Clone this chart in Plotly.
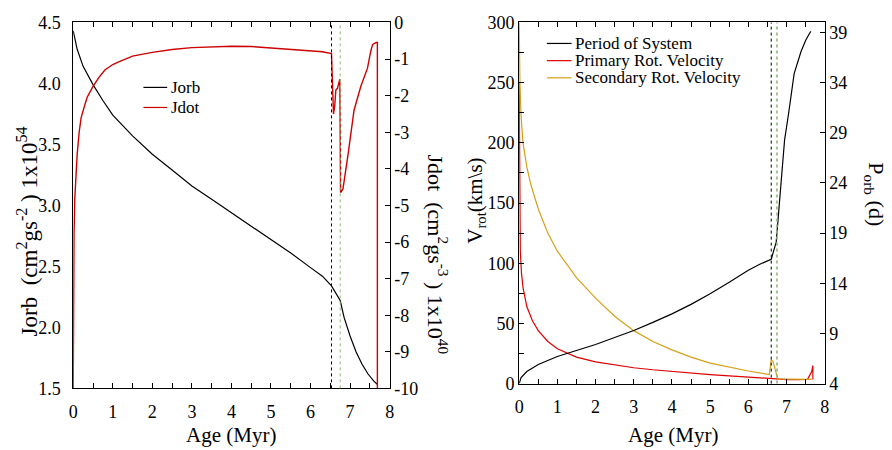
import plotly.graph_objects as go

# ---------------- data ----------------
# Left panel: orbital angular momentum (1e54) and its derivative (1e40)
t_jorb = [0, 0.05, 0.1, 0.25, 0.5, 0.75, 1, 1.5, 2, 2.5, 3, 3.5, 4, 4.5, 5, 5.5, 6, 6.3, 6.53,
          6.75, 6.85, 7.0, 7.15, 7.3, 7.45, 7.6, 7.7]
jorb = [4.43, 4.35, 4.28, 4.14, 3.99, 3.86, 3.74, 3.57, 3.42, 3.29, 3.16, 3.05, 2.94, 2.83, 2.72,
        2.61, 2.49, 2.42, 2.34, 2.22, 2.08, 1.93, 1.80, 1.70, 1.62, 1.56, 1.53]

t_jdot = [0, 0.005, 0.01, 0.02, 0.04, 0.07, 0.1, 0.15, 0.2, 0.28, 0.35, 0.5, 0.65, 0.8, 1.0, 1.15,
          1.5, 2.0, 2.5, 3.0, 3.5, 4.0, 4.5, 5.0, 5.5, 6.0, 6.3, 6.53, 6.58, 6.61, 6.64, 6.68,
          6.71, 6.74, 6.76, 6.82, 6.95, 7.1, 7.27, 7.44, 7.52, 7.57, 7.66, 7.69, 7.69]
jdot = [-10.0, -8.5, -7.0, -5.8, -4.8, -4.1, -3.6, -3.0, -2.6, -2.3, -2.05, -1.75, -1.5, -1.3,
        -1.15, -1.08, -0.92, -0.82, -0.74, -0.69, -0.66, -0.65, -0.66, -0.70, -0.74, -0.78, -0.8,
        -0.85, -2.5, -2.3, -1.85, -1.8, -1.7, -1.55, -4.65, -4.55, -3.6, -2.4, -1.75, -1.25,
        -0.8, -0.6, -0.55, -0.55, -10.0]

# Right panel: period (d) and rotational velocities (km/s)
t_per = [0, 0.05, 0.2, 0.5, 1.0, 1.5, 2.0, 2.5, 3.0, 3.5, 4.0, 4.5, 5.0, 5.5, 6.0, 6.3, 6.6,
         6.73, 6.8, 6.87, 6.95, 7.05, 7.2, 7.38, 7.5, 7.6, 7.64]
period = [4.0, 4.6, 5.2, 5.9, 6.7, 7.3, 7.9, 8.6, 9.3, 10.1, 10.95, 11.9, 12.95, 14.1, 15.3,
          15.9, 16.4, 18.1, 21.5, 25.3, 28.3, 30.8, 34.9, 37.1, 38.2, 38.9, 39.1]

t_prim = [0, 0.005, 0.01, 0.02, 0.03, 0.06, 0.1, 0.2, 0.35, 0.5, 0.75, 1.0, 1.5, 2.0, 2.5, 3.0,
          3.5, 4.0, 4.5, 5.0, 5.5, 6.0, 6.55, 6.8, 7.0, 7.3, 7.55, 7.66, 7.69, 7.69]
prim = [250, 190, 150, 125, 110, 92, 80, 64, 52, 44, 35, 29, 22, 18, 15.5, 13.2, 11.5, 10, 8.7,
        7.5, 6.5, 5.5, 4.6, 3.6, 3.4, 3.4, 3.6, 10, 15, 3.5]

t_sec = [0, 0.01, 0.02, 0.05, 0.1, 0.2, 0.3, 0.5, 0.75, 1.0, 1.5, 2.0, 2.5, 3.0, 3.5, 4.0, 4.5,
         5.0, 5.5, 6.0, 6.55, 6.6, 6.65, 6.7, 6.73, 6.77, 7.0, 7.3, 7.5, 7.66]
sec = [300, 270, 250, 222, 200, 180, 166, 145, 125, 110, 88, 71, 56, 44, 35, 28, 22, 17, 13.5,
       10.5, 7.5, 20, 18, 13, 10, 4, 3.8, 3.6, 3.6, 3.6]

# vertical markers (Myr)
vline_black = [6.53, 6.6]   # left panel, right panel
vline_green = [6.75, 6.75]

x_ticks = [0, 1, 2, 3, 4, 5, 6, 7, 8]
jorb_ticks = [1.5, 2.0, 2.5, 3.0, 3.5, 4.0, 4.5]
jorb_labels = ["1.5", "2.0", "2.5", "3.0", "3.5", "4.0", "4.5"]
jdot_ticks = [0, -1, -2, -3, -4, -5, -6, -7, -8, -9, -10]
jdot_labels = ["0", "-1", "-2", "-3", "-4", "-5", "-6", "-7", "-8", "-9", "-10"]
vrot_ticks = [0, 50, 100, 150, 200, 250, 300]
porb_ticks = [4, 9, 14, 19, 24, 29, 34, 39]

left_names = ["Jorb", "Jdot"]
right_names = ["Period of System", "Primary Rot. Velocity", "Secondary Rot. Velocity"]

# ---------------- figure ----------------
W, H = 892, 450
FONT = "Liberation Serif"
RED = "#cc0000"
RED2 = "#e00000"
GOLD = "#d4a017"
GREEN = "#8fb878"


def px(x):
    return x / W


def py(y):
    return 1 - y / H


fig = go.Figure()

fig.add_trace(go.Scatter(x=t_jorb, y=jorb, mode="lines", name=left_names[0],
                         line=dict(color="black", width=1.2), xaxis="x", yaxis="y"))
fig.add_trace(go.Scatter(x=t_jdot, y=jdot, mode="lines", name=left_names[1],
                         line=dict(color=RED, width=1.4), xaxis="x", yaxis="y2"))
fig.add_trace(go.Scatter(x=t_per, y=period, mode="lines", name=right_names[0],
                         line=dict(color="black", width=1.2), xaxis="x2", yaxis="y4"))
fig.add_trace(go.Scatter(x=t_prim, y=prim, mode="lines", name=right_names[1],
                         line=dict(color=RED2, width=1.2), xaxis="x2", yaxis="y3"))
fig.add_trace(go.Scatter(x=t_sec, y=sec, mode="lines", name=right_names[2],
                         line=dict(color=GOLD, width=1.2), xaxis="x2", yaxis="y3"))

# vertical lines
for xr, yr, i in (("x", "y", 0), ("x2", "y3", 1)):
    fig.add_shape(type="line", xref=xr, yref=f"{yr} domain", x0=vline_black[i], x1=vline_black[i],
                  y0=0, y1=1, line=dict(color="black", width=1, dash="dot"))
    fig.add_shape(type="line", xref=xr, yref=f"{yr} domain", x0=vline_green[i], x1=vline_green[i],
                  y0=0, y1=1, line=dict(color=GREEN, width=1.6 if i else 1, dash="dot"))

tickfont = dict(family=FONT, size=18, color="black")
common = dict(showline=True, linecolor="black", linewidth=1, ticks="inside", ticklen=5,
              tickcolor="black", tickwidth=1, showgrid=False, zeroline=False, tickfont=tickfont)

L_dom = [px(69), px(389)]
R_dom = [px(520), px(829)]
L_ydom = [py(396), py(13)]
R_ydom = [py(391), py(13)]

fig.update_layout(
    width=W, height=H, margin=dict(l=0, r=0, t=0, b=0),
    paper_bgcolor="white", plot_bgcolor="white",
    font=dict(family=FONT, color="black"),
    showlegend=False,
    xaxis=dict(domain=L_dom, range=[0, 8], anchor="y", tickvals=x_ticks, mirror="ticks",
               minor=dict(dtick=0.5, ticks="inside", ticklen=5, tickcolor="black"),
               ticklabelstandoff=7, **common),
    # labels of the Jorb axis (transparent outside ticks give the label gap)
    yaxis=dict(domain=L_ydom, range=[1.5, 4.5], anchor="x", tickvals=jorb_ticks,
               ticktext=jorb_labels, showline=True, linecolor="black", linewidth=1,
               ticks="outside", ticklen=8, tickcolor="rgba(0,0,0,0)", showgrid=False,
               zeroline=False, tickfont=tickfont),
    # inside tick marks of the Jorb axis
    yaxis5=dict(domain=L_ydom, range=[1.5, 4.5], anchor="x", overlaying="y", side="left",
                tickvals=jorb_ticks, showticklabels=False,
                minor=dict(dtick=0.25, ticks="inside", ticklen=5, tickcolor="black"),
                **common),
    yaxis2=dict(domain=L_ydom, range=[-10, 0], anchor="x", overlaying="y", side="right",
                tickvals=jdot_ticks, ticktext=jdot_labels, **common),
    xaxis2=dict(domain=R_dom, range=[0, 8], anchor="y3", tickvals=x_ticks, mirror="ticks",
                minor=dict(dtick=0.5, ticks="inside", ticklen=5, tickcolor="black"),
                ticklabelstandoff=7, **common),
    yaxis3=dict(domain=R_ydom, range=[0, 300], anchor="x2", tickvals=vrot_ticks,
                minor=dict(dtick=25, ticks="inside", ticklen=5, tickcolor="black"),
                **common),
    yaxis4=dict(domain=R_ydom, range=[4, 40], anchor="x2", overlaying="y3", side="right",
                tickvals=porb_ticks, **common),
)

# manual legends (line samples + labels)
legfont = dict(family=FONT, size=17, color="black")
left_cols = ["black", RED]
left_rows = [81, 102]
for name, col, yy in zip(left_names, left_cols, left_rows):
    fig.add_shape(type="line", xref="paper", yref="paper", x0=px(140), x1=px(164),
                  y0=py(yy), y1=py(yy), line=dict(color=col, width=1.2))
    fig.add_annotation(x=px(166), y=py(yy), xref="paper", yref="paper", text=name,
                       showarrow=False, font=legfont, xanchor="left", yanchor="middle")
right_cols = ["black", RED2, GOLD]
right_rows = [35, 53, 71]
for name, col, yy in zip(right_names, right_cols, right_rows):
    fig.add_shape(type="line", xref="paper", yref="paper", x0=px(548), x1=px(573),
                  y0=py(yy), y1=py(yy), line=dict(color=col, width=1.2))
    fig.add_annotation(x=px(574), y=py(yy), xref="paper", yref="paper", text=name,
                       showarrow=False, font=legfont, xanchor="left", yanchor="middle")

titlefont = dict(family=FONT, size=21, color="black")
fig.add_annotation(x=px(229), y=py(445), xref="paper", yref="paper", text="Age (Myr)",
                   showarrow=False, font=titlefont, xanchor="center", yanchor="middle")
fig.add_annotation(x=px(676), y=py(445), xref="paper", yref="paper", text="Age (Myr)",
                   showarrow=False, font=titlefont, xanchor="center", yanchor="middle")
fig.add_annotation(x=px(23), y=py(232), xref="paper", yref="paper",
                   text="Jorb  (cm<sup>2</sup>gs<sup>-2</sup> ) 1x10<sup>54</sup>",
                   showarrow=False, font=dict(family=FONT, size=23, color="black"),
                   textangle=-90, xanchor="center", yanchor="middle")
fig.add_annotation(x=px(438), y=py(256), xref="paper", yref="paper",
                   text="Jdot  (cm<sup>2</sup>gs<sup>-3</sup> ) 1x10<sup>40</sup>",
                   showarrow=False, font=dict(family=FONT, size=22, color="black"),
                   textangle=90, xanchor="center", yanchor="middle")
fig.add_annotation(x=px(476), y=py(200), xref="paper", yref="paper",
                   text="V<sub>rot</sub>(km\\s)",
                   showarrow=False, font=dict(family=FONT, size=21, color="black"),
                   textangle=-90, xanchor="center", yanchor="middle")
fig.add_annotation(x=px(879), y=py(193), xref="paper", yref="paper",
                   text="P<sub>orb</sub> (d)",
                   showarrow=False, font=dict(family=FONT, size=22, color="black"),
                   textangle=90, xanchor="center", yanchor="middle")

fig.write_html("out.html")
